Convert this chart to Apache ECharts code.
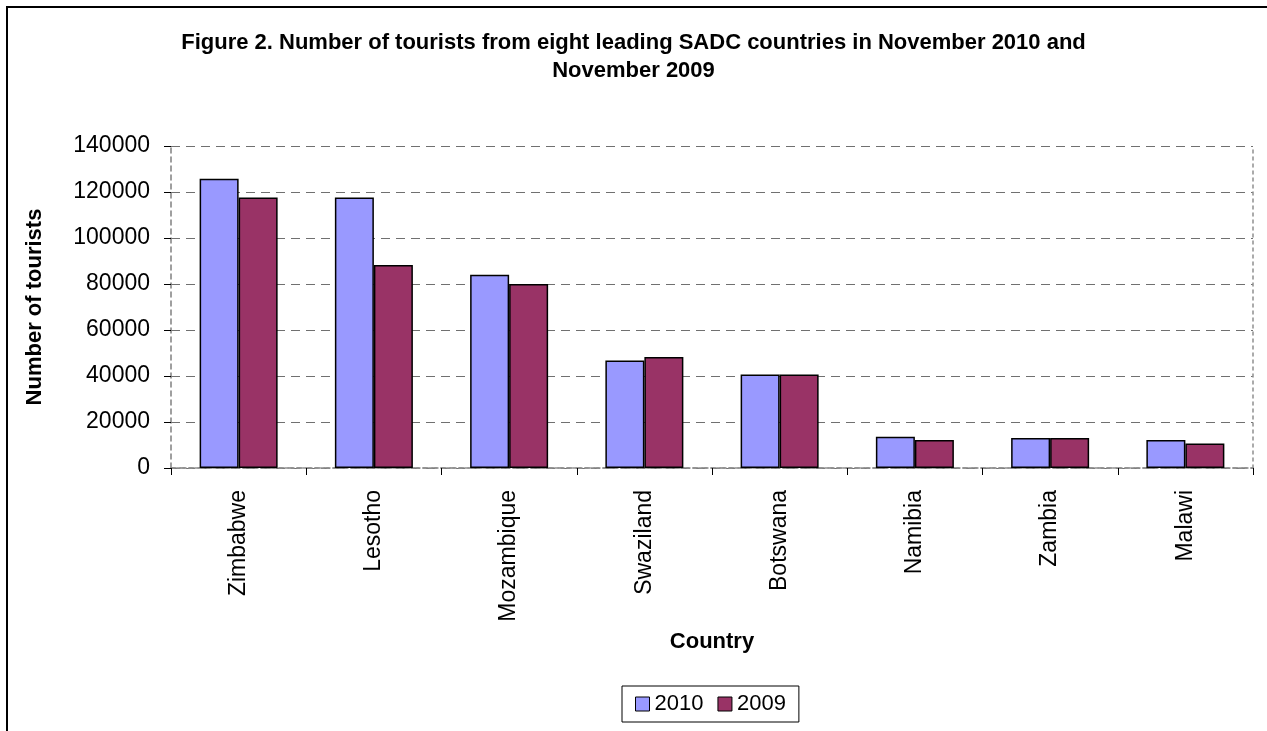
<!DOCTYPE html>
<html>
<head>
<meta charset="utf-8">
<script src="https://cdn.jsdelivr.net/npm/echarts@6/dist/echarts.min.js"></script>
<style>
html,body{margin:0;padding:0;background:#fff;}
#chart{width:1267px;height:731px;}
</style>
</head>
<body>
<div id="chart"></div>
<script>
const categories = ['Zimbabwe', 'Lesotho', 'Mozambique', 'Swaziland', 'Botswana', 'Namibia', 'Zambia', 'Malawi'];
const values2010 = [125800, 117600, 84000, 46700, 40700, 13600, 13000, 12200];
const values2009 = [117600, 88300, 80000, 48300, 40700, 12200, 13000, 10600];
const seriesNames = ['2010', '2009'];
const titleText = 'Figure 2. Number of tourists from eight leading SADC countries in November 2010 and\nNovember 2009';
const yAxisName = 'Number of tourists';
const xAxisName = 'Country';

const FONT = '"Liberation Sans", Arial, sans-serif';
const chart = echarts.init(document.getElementById('chart'), null, {renderer: 'canvas'});

const option = {
  backgroundColor: '#fff',
  animation: false,
  textStyle: {fontFamily: FONT},
  title: {
    text: titleText,
    left: 'center',
    top: 29,
    padding: 0,
    textStyle: {fontFamily: FONT, fontSize: 22, fontWeight: 'bold', color: '#000', lineHeight: 28}
  },
  graphic: [{
    type: 'rect',
    shape: {x: 7, y: 7, width: 1400, height: 900},
    style: {fill: 'none', stroke: '#000', lineWidth: 2},
    silent: true,
    z: 100
  }],
  legend: {
    data: seriesNames,
    left: 622,
    top: 686,
    orient: 'horizontal',
    padding: [7, 13, 7, 13],
    itemGap: 14,
    itemWidth: 14,
    itemHeight: 14,
    borderColor: '#000',
    borderWidth: 1,
    icon: 'rect',
    textStyle: {fontFamily: FONT, fontSize: 22, color: '#000'},
    itemStyle: {borderColor: '#000', borderWidth: 1}
  },
  grid: {left: 171, right: 14, top: 146, bottom: 263, containLabel: false},
  xAxis: [{
    type: 'category',
    data: categories,
    name: xAxisName,
    nameLocation: 'middle',
    nameGap: 163,
    nameTextStyle: {fontFamily: FONT, fontSize: 22, fontWeight: 'bold', color: '#000'},
    axisLine: {show: true, lineStyle: {color: '#808080', width: 1.5, type: [5, 4]}},
    axisTick: {show: true, length: 7, lineStyle: {color: '#000', width: 1}},
    axisLabel: {rotate: 90, margin: 22, fontFamily: FONT, fontSize: 23, color: '#000'},
    splitLine: {show: false}
  }, {
    type: 'category',
    data: categories,
    position: 'top',
    axisLine: {show: true, lineStyle: {color: '#909090', width: 1.5, type: [3, 3]}},
    axisTick: {show: false},
    axisLabel: {show: false}
  }],
  yAxis: [{
    type: 'value',
    min: 0,
    max: 140000,
    interval: 20000,
    name: yAxisName,
    nameLocation: 'middle',
    nameGap: 125,
    nameRotate: 90,
    nameTextStyle: {fontFamily: FONT, fontSize: 22, fontWeight: 'bold', color: '#000'},
    axisLine: {show: true, lineStyle: {color: '#808080', width: 1.5, type: [5, 4]}},
    axisTick: {show: true, length: 7, lineStyle: {color: '#000', width: 1}},
    axisLabel: {margin: 21, fontFamily: FONT, fontSize: 23, color: '#000', formatter: v => String(v)},
    splitLine: {show: true, lineStyle: {color: '#707070', width: 1.2, type: [9, 6]}}
  }, {
    type: 'value',
    min: 0,
    max: 140000,
    interval: 20000,
    position: 'right',
    axisLine: {show: true, lineStyle: {color: '#909090', width: 1.5, type: [3, 4]}},
    axisTick: {show: false},
    axisLabel: {show: false},
    splitLine: {show: false}
  }],
  series: [{
    name: seriesNames[0],
    type: 'bar',
    data: values2010,
    barWidth: 39,
    barGap: '0%',
    itemStyle: {color: '#9999FF', borderColor: '#000', borderWidth: 1.5}
  }, {
    name: seriesNames[1],
    type: 'bar',
    data: values2009,
    barWidth: 39,
    barGap: '0%',
    itemStyle: {color: '#993366', borderColor: '#000', borderWidth: 1.5}
  }]
};
chart.setOption(option);
</script>
</body>
</html>
